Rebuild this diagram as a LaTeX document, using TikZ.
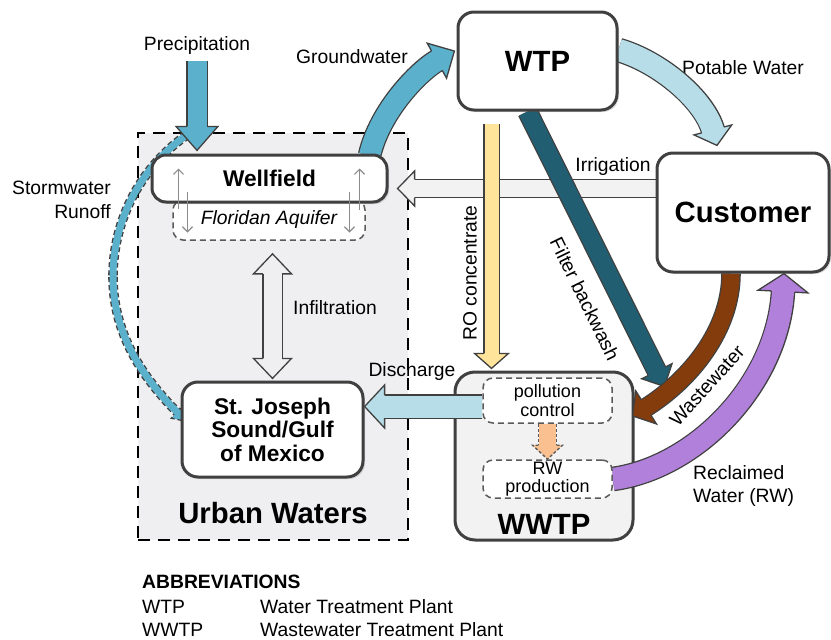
\documentclass[tikz,border=0pt]{standalone}
\usepackage{fontspec}
\setmainfont{Liberation Sans}
\usetikzlibrary{positioning, calc, arrows.meta, decorations.markings, shadows}

\definecolor{edge}{RGB}{64,64,64}
\definecolor{dashgray}{RGB}{90,90,90}
\definecolor{seepgray}{RGB}{140,140,140}
\definecolor{zonefill}{RGB}{239,239,241}
\definecolor{wwtpfill}{RGB}{242,242,242}
\definecolor{midblue}{RGB}{91,177,204}
\definecolor{paleblue}{RGB}{183,222,232}
\definecolor{irrfill}{RGB}{242,242,242}
\definecolor{royellow}{RGB}{255,228,153}
\definecolor{backwash}{RGB}{33,94,114}
\definecolor{sewage}{RGB}{132,60,12}
\definecolor{reclaim}{RGB}{176,128,218}
\definecolor{transfer}{RGB}{250,192,144}

\pgfdeclarelayer{back}
\pgfdeclarelayer{front}
\pgfsetlayers{back,main,front}

% block arrow: [outline opts]{colour}{shaft}{head width}{head length}{path}
\newcommand{\flowarrow}[6][]{%
  \draw[draw=edge, line width=#3pt+2.6pt, shorten >=#5pt-1pt, #1] #6;
  \draw[draw=#2, line width=#3pt, shorten >=#5pt-2pt] #6;
  \path[decorate, decoration={markings, mark=at position -0.1pt with {%
    \filldraw[fill=#2, draw=edge, line width=1.3pt, line join=miter, #1]
      (-#5pt,#3pt/2+0.65pt) -- (-#5pt,#4pt/2) -- (0pt,0pt)
      -- (-#5pt,-#4pt/2) -- (-#5pt,-#3pt/2-0.65pt);}}] #6;
}

\tikzset{
  plant/.style={draw=edge, line width=3pt, fill=white, rounded corners=16pt,
    align=center, inner sep=0pt, font=\fontsize{29.3}{32}\selectfont\bfseries,
    drop shadow={shadow xshift=2pt, shadow yshift=-2pt, opacity=0.25}},
  place/.style={plant, font=\fontsize{22.7}{23.5}\selectfont\bfseries},
  unit/.style={draw=dashgray, line width=1.5pt, dash pattern=on 6pt off 4pt,
    fill=white, rounded corners=10pt, align=center, inner sep=0pt,
    font=\fontsize{18}{18.5}\selectfont},
  lbl/.style={inner sep=0pt, font=\fontsize{19.3}{23.5}\selectfont},
  banner/.style={inner sep=0pt, font=\fontsize{29.3}{32}\selectfont\bfseries},
  seep/.style={draw=seepgray, line width=1.2pt, -{Straight Barb[length=5pt,width=10pt]}},
}

\begin{document}
\begin{tikzpicture}[x=1pt, y=-1pt]
  \useasboundingbox (0,0) rectangle (831,640);

  \begin{pgfonlayer}{back}
    \node[draw=black, line width=2.5pt, dash pattern=on 12pt off 8pt, fill=zonefill,
      minimum width=270pt, minimum height=407pt] (urban) at (273,336.5) {};
    \node[draw=edge, line width=3pt, fill=wwtpfill, rounded corners=20pt,
      minimum width=178pt, minimum height=168pt] (wwtp) at (544,456) {};
  \end{pgfonlayer}

  \begin{pgfonlayer}{front}
    \node[plant, minimum width=159pt, minimum height=98pt] (wtp) at (537.5,61) {WTP};
    \node[plant, minimum width=172pt, minimum height=119pt] (customer) at (743,212.5) {Customer};
    \node[unit, font=\fontsize{19.3}{22}\selectfont\itshape, minimum width=192pt,
      minimum height=40pt] (aquifer) at (269,220) {Floridan Aquifer};
    \node[place, rounded corners=14pt, minimum width=235pt, minimum height=47pt]
      (wellfield) at (269.5,178.5) {Wellfield};
    \node[place, minimum width=181pt, minimum height=95pt] (sea) at (272.5,429.5)
      {St. Joseph\\Sound/Gulf\\of Mexico};
    \node[unit, minimum width=129pt, minimum height=45pt] (pollution) at (547.5,400.5)
      {pollution\\control};
    \node[unit, minimum width=129pt, minimum height=38pt] (rwprod) at (547.5,479)
      {RW\\production};
    % exchange between wellfield and aquifer
    \draw[seep] ($(wellfield.center)+(-91,30)$) -- ($(wellfield.center)+(-91,-10)$);
    \draw[seep] ($(wellfield.center)+(-82,13)$) -- ($(wellfield.center)+(-82,54)$);
    \draw[seep] ($(wellfield.center)+(90,31)$) -- ($(wellfield.center)+(90,-10)$);
    \draw[seep] ($(wellfield.center)+(80,13)$) -- ($(wellfield.center)+(80,54)$);
  \end{pgfonlayer}

  \node[banner] (urbanlabel) at ($(urban.south)+(0,-28)$) {Urban Waters};
  \node[banner] (wwtplabel) at ($(wwtp.south)+(0,-17)$) {WWTP};

  % labels
  \node[lbl] (precip) at (197,46) {Precipitation};
  \node[lbl] (gwlabel) at (352,57) {Groundwater};
  \node[lbl] (potlabel) at (743,68) {Potable Water};
  \node[lbl] (irrlabel) at (613,167) {Irrigation};
  \node[lbl, align=right, anchor=east] (stormlabel) at (111,200) {Stormwater\\Runoff};
  \node[lbl] (inflabel) at (335,308) {Infiltration};
  \node[lbl] (dislabel) at (412,372) {Discharge};
  \node[lbl, rotate=90] (rolabel) at (470,273) {RO concentrate};
  \node[lbl, rotate=-64] (fblabel) at (585,299) {Filter backwash};
  \node[lbl, rotate=48] (wwlabel) at (707,386) {Wastewater};
  \node[lbl, align=left, anchor=west] (rwlabel) at (693,486) {Reclaimed\\Water (RW)};

  % flows
  \coordinate (runoff) at (187,135);
  \coordinate (runoffmid) at (113,277);
  \draw[draw=edge, line width=9.6pt, dash pattern=on 5pt off 3pt]
    (runoff) .. controls (150,160) and (113,210) .. (runoffmid);
  \draw[draw=midblue, line width=7pt] (runoff) .. controls (150,160) and (113,210) .. (runoffmid);
  \flowarrow[dash pattern=on 5pt off 3pt]{midblue}{7}{17}{13}
    {(runoffmid) .. controls (113,340) and (150,385) .. ($(sea.west)+(6,-8)$)}
  \flowarrow{midblue}{19}{42}{24}
    {($(precip.south)+(0,6)$) -- ($(precip.south |- wellfield.north)+(0,-3)$)}
  \flowarrow{midblue}{21}{40}{20}
    {($(wellfield.north east)+(-19,2)$) .. controls (380,110) and (420,70) .. ($(wtp.west)+(-2,-10)$)}
  \flowarrow{paleblue}{22}{39}{16}
    {($(wtp.east)+(0,-11)$) .. controls (660,62) and (705,100) .. ($(customer.north)+(-26,-6)$)}
  \flowarrow{irrfill}{17}{35}{17}
    {($(customer.west)+(0,-24)$) -- ($(wellfield.east |- customer.west)+(9,-24)$)}
  \coordinate (rostart) at ($(wtp.south west)+(35,12)$);
  \flowarrow{royellow}{14}{34}{15}{(rostart) -- ($(rostart |- wwtp.north)+(0,-2)$)}
  \coordinate (fbend) at ($(wwtp.north east)+(30,16)$);
  \flowarrow{backwash}{18}{34}{17}{($(wtp.south)+(-10,0)$) -- (fbend)}
  \flowarrow{paleblue}{22}{43}{20}
    {($(pollution.west)+(0,6)$) -- ($(sea.east |- pollution.west)+(0,6)$)}
  \flowarrow[draw=dashgray, dash pattern=on 3pt off 2pt]{transfer}{17}{30}{14}
    {(pollution.south) -- (rwprod.north)}
  \coordinate (wwtip) at ($(wwtp.east)+(-2,-40)$);
  \flowarrow{sewage}{17}{39}{16}
    {($(customer.south)+(-12,0)$) .. controls (731,330) and (690,380) .. (wwtip)}
  \flowarrow{reclaim}{22}{50}{18}
    {(rwprod.east) .. controls (695,468) and (778,385) .. ($(customer.south)+(41,0)$)}
  \coordinate (inftop) at ($(sea.north |- aquifer.south)+(0,13)$);
  \coordinate (infbot) at ($(sea.north)+(0,-2)$);
  \coordinate (infmid) at ($(inftop)!0.5!(infbot)$);
  \flowarrow{zonefill}{18}{38}{20}{(infmid) -- (inftop)}
  \flowarrow{zonefill}{18}{38}{20}{(infmid) -- (infbot)}

  % abbreviations
  \node[lbl, font=\fontsize{19.3}{23}\selectfont\bfseries, anchor=base west] (abbr) at (142,588) {ABBREVIATIONS};
  \node[lbl, anchor=base west] (abwtp) at (142,613) {WTP};
  \node[lbl, anchor=base west] (abwtpdef) at (260,613) {Water Treatment Plant};
  \node[lbl, anchor=base west] (abwwtp) at (142,636) {WWTP};
  \node[lbl, anchor=base west] (abwwtpdef) at (260,636) {Wastewater Treatment Plant};
\end{tikzpicture}
\end{document}
